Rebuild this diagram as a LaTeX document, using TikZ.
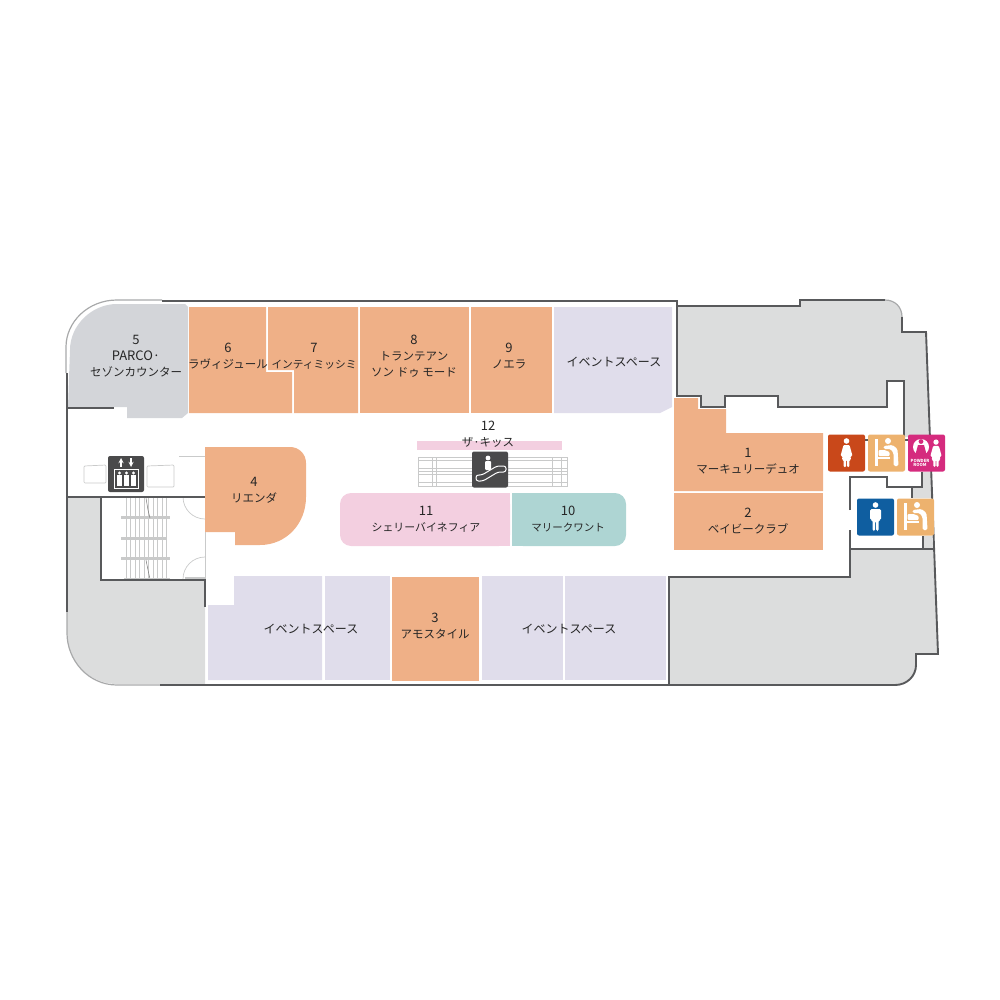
\documentclass[tikz,border=0pt]{standalone}
\usepackage{fontspec}
\setmainfont{Noto Sans CJK JP}
\usepackage{xcolor}
\definecolor{shoporange}{HTML}{EFB087}
\definecolor{eventlilac}{HTML}{E0DDEB}
\definecolor{counterblue}{HTML}{D3D5D9}
\definecolor{shoppink}{HTML}{F3CFE0}
\definecolor{shopteal}{HTML}{AED5D3}
\definecolor{voidgrey}{HTML}{DCDDDD}
\definecolor{walldark}{HTML}{58595B}
\definecolor{thinline}{HTML}{C9CACA}
\definecolor{curveline}{HTML}{A8A9AA}
\definecolor{iconblack}{HTML}{4A4A4B}
\definecolor{wcred}{HTML}{C9481A}
\definecolor{wcblue}{HTML}{0F5EA0}
\definecolor{babytan}{HTML}{EDB26E}
\definecolor{powderpink}{HTML}{D52B7E}
\newcommand{\shopno}[1]{{\fontsize{13}{16}\selectfont #1}}
\begin{document}
\begin{tikzpicture}[x=1pt,y=-1pt,
  shop/.style={fill=shoporange},
  eventarea/.style={fill=eventlilac},
  void/.style={fill=voidgrey},
  wall/.style={draw=walldark,line width=1.9pt,line join=miter},
  thin wall/.style={draw=thinline,line width=0.7pt},
  outer curve/.style={draw=curveline,line width=1.2pt},
  stair line/.style={draw=thinline,line width=0.5pt},
  shop label/.style={font=\fontsize{11.5}{16}\selectfont,align=center,inner sep=0pt,text=black!85},
  icon box/.style={rounded corners=2pt,minimum size=37pt,inner sep=0pt},
  person/.style={fill=white,draw=none},
  man/.pic={
    \fill[person] (0,-12) circle (2.8);
    \fill[person,rounded corners=1.5pt] (-5.5,-8) -- (5.5,-8) -- (5.5,3) -- (3,3) -- (3,14) -- (0.5,14) -- (0.5,4)
      -- (-0.5,4) -- (-0.5,14) -- (-3,14) -- (-3,3) -- (-5.5,3) -- cycle;
  },
  woman/.pic={
    \fill[person] (0,-12) circle (2.8);
    \fill[person,rounded corners=1pt] (-3,-8) -- (3,-8) -- (6,3) -- (4,3) -- (4.5,7) -- (2.8,7) -- (2.8,14) -- (0.5,14) -- (0.5,7)
      -- (-0.5,7) -- (-0.5,14) -- (-2.8,14) -- (-2.8,7) -- (-4.5,7) -- (-4,3) -- (-6,3) -- cycle;
  },
  baby table/.pic={
    \fill[person] (-11.5,-14) rectangle (-9,13);
    \fill[person] (-9,4) rectangle (3,6);
    \fill[person,rounded corners=1pt] (-8,-3) -- (-2,-3) -- (3,-1) -- (3,3) -- (-8,3) -- cycle;
    \fill[person] (1.5,-12) circle (3);
    \fill[person,rounded corners=1.5pt] (-3,-7) -- (6,-8) -- (11,-4) -- (12,13) -- (7,13) -- (7,0) -- (4,-4) -- (-3,-4) -- cycle;
  }]

  \useasboundingbox (0,0) rectangle (1000,1000);

  % voids behind the walls
  \path[void] (677,306) -- (800,306) -- (800,300) -- (885,300) .. controls (895,300) and (902,307) .. (902,317) -- (902,332)
    -- (926,332) -- (930,437) -- (904,437) -- (904,381) -- (887,381) -- (887,407) -- (778,407) -- (778,396)
    -- (725,396) -- (725,407) -- (701,407) -- (701,396) -- (677,396) -- cycle;
  \path[void] (669,577) -- (851,577) -- (851,549) -- (933,549) -- (938,654) -- (916,654) -- (916,665)
    .. controls (916,676) and (907,684) .. (895,684) -- (669,684) -- cycle;
  \path[void] (67,497) -- (101,497) -- (101,580) -- (205,580) -- (205,684) -- (117,684)
    .. controls (88,684) and (67,660) .. (67,633) -- cycle;
  \path[void] (922,472) -- (931,472) -- (931,498) -- (912,498) -- (912,487) -- (922,487) -- cycle;
  \path[void] (923,536) -- (932,536) -- (933,549) -- (923,549) -- cycle;

  % shops
  \path[fill=counterblue] (117,304) -- (185,304) -- (188,307) -- (188,413) -- (182,418) -- (127,418) -- (127,407) -- (68,407)
    -- (70,350) .. controls (70,325) and (92,304) .. (117,304) -- cycle;
  \path[shop] (189,307) -- (266,307) -- (266,372) -- (292,372) -- (292,413) -- (189,413) -- cycle;
  \path[shop] (268,307) -- (358,307) -- (358,413) -- (294,413) -- (294,370) -- (268,370) -- cycle;
  \path[shop] (360,307) rectangle (469,413);
  \path[shop] (471,307) rectangle (552,413);
  \path[eventarea] (554,307) -- (672,307) -- (672,407) -- (660,413) -- (554,413) -- cycle;
  \path[shop] (674,398) -- (698,398) -- (698,409) -- (726,409) -- (726,433) -- (823,433) -- (823,491) -- (674,491) -- cycle;
  \path[shop] (674,493) rectangle (823,550);
  \path[shop] (205,447) -- (290,447) .. controls (299,447) and (306,454) .. (306,463) -- (306,497)
    .. controls (306,524) and (286,545) .. (260,545) -- (235,545) -- (235,532) -- (205,532) -- cycle;
  \path[fill=shoppink,rounded corners=11pt] (510,493) -- (340,493) -- (340,546) -- (510,546) -- cycle;
  \path[fill=shoppink] (490,493) rectangle (510,546);
  \path[fill=shopteal,rounded corners=11pt] (512,493) -- (626,493) -- (626,546) -- (512,546) -- cycle;
  \path[fill=shopteal] (512,493) rectangle (530,546);
  \path[fill=shoppink] (417,441) rectangle (562,450);
  \path[eventarea] (234,576) -- (322,576) -- (322,680) -- (208,680) -- (208,605) -- (234,605) -- cycle;
  \path[eventarea] (325,576) rectangle (390,680);
  \path[shop] (392,577) rectangle (479,681);
  \path[eventarea] (482,576) rectangle (563,680);
  \path[eventarea] (565,576) rectangle (666,680);

  % thin lines
  \draw[outer curve] (162,300) -- (117,300) .. controls (88,300) and (66,322) .. (66,347) -- (66,373);
  \draw[outer curve] (67,612) -- (67,633) .. controls (67,660) and (88,685) .. (117,685) -- (162,685);
  \draw[outer curve] (885,300) .. controls (895,300) and (902,307) .. (902,317);
  \draw[thin wall] (179,456) -- (205,456);
  \draw[thin wall] (205,532) -- (205,580);
  \draw[thin wall] (183,497) arc[start angle=180,end angle=90,radius=22];
  \draw[thin wall] (183,579) arc[start angle=180,end angle=270,radius=22];
  \draw[thin wall,rounded corners=1pt] (84,466) -- (106,465) -- (106,483) -- (84,483) -- cycle;
  \draw[thin wall,rounded corners=1pt] (147,466) -- (174,465) -- (174,487) -- (147,487) -- cycle;

  % stairs
  \foreach \x in {126,130.5,...,170}
    \draw[stair line] (\x,498) -- (\x,579);
  \foreach \y/\r in {517/170,538/167,558/170}
    \draw[draw=thinline,line width=3pt] (121,\y) -- (\r,\y);
  \draw[stair line,draw=gray] (146,498) -- (148,510) -- (150,518);
  \draw[stair line,draw=gray] (146,560) -- (148,570) -- (150,579);
  \draw[draw=thinline,line width=1.5pt] (124,578.5) -- (170,578.5);
  \draw[draw=thinline,line width=1.5pt] (185,578) -- (205,578);

  % escalator
  \draw[stair line] (418,457) rectangle (567,486);
  \foreach \y in {460,468,471,474,482}
    \draw[stair line] (418,\y) -- (567,\y);
  \foreach \x in {432,436,552,561}
    \draw[stair line] (\x,457) -- (\x,486);

  % walls
  \draw[wall] (162,301) -- (677,301) -- (677,306) -- (800,306) -- (800,300) -- (885,300);
  \draw[wall] (902,317) -- (902,332) -- (926,332) -- (938,654) -- (916,654) -- (916,665)
    .. controls (916,676) and (907,685) .. (895,685) -- (160,685);
  \draw[wall] (677,306) -- (677,396) -- (701,396) -- (701,407) -- (725,407) -- (725,396) -- (778,396) -- (778,407)
    -- (887,407) -- (887,381) -- (904,381) -- (904,437);
  \draw[wall] (67,373) -- (67,612);
  \draw[wall] (67,408) -- (114,408);
  \draw[wall] (67,497) -- (205,497);
  \draw[wall] (101,497) -- (101,580) -- (205,580) -- (205,607);
  \draw[wall] (850,510) -- (850,477) -- (887,477) -- (887,487) -- (922,487) -- (922,472);
  \draw[wall] (912,487) -- (912,498);
  \draw[wall] (850,530) -- (850,577) -- (669,577) -- (669,685);
  \draw[wall] (851,549) -- (933,549);
  \draw[wall] (923,536) -- (923,549);
  \draw[wall] (865,440) -- (868,440);
  \draw[wall] (905,440) -- (908,440);

  % lift and escalator signs
  \node[icon box,fill=iconblack,minimum size=36pt] (liftsign) at (126,474) {};
  \draw[white,line width=1.3pt,-stealth] (121,467) -- (121,458);
  \draw[white,line width=1.3pt,-stealth] (131,458) -- (131,467);
  \draw[white,line width=1pt,fill=iconblack] (114,469) rectangle (138.5,488);
  \foreach \x in {119.5,126.5,133.5}{
    \fill[white] (\x,473) circle (1.7);
    \fill[white] (\x-2.5,475) rectangle (\x+2.5,486);
  }
  \node[icon box,fill=iconblack,minimum size=36pt] (escalatorsign) at (490,469.5) {};
  \fill[white] (488,458) circle (2.4);
  \fill[white,rounded corners=1pt] (485,461) rectangle (491,470);
  \draw[white,line width=1pt,rounded corners=2.5pt] (476,481) -- (483,481) -- (498,472) -- (506,472)
    -- (506,466) -- (497,466) -- (482,475) -- (476,475) -- cycle;

  % toilets
  \node[icon box,fill=wcred] (womenwc) at (846.5,453) {};
  \pic at (womenwc) {woman};
  \node[icon box,fill=babytan] (babyupper) at (886.5,453) {};
  \pic at (babyupper) {baby table};
  \node[icon box,fill=powderpink] (powderroom) at (926.5,453) {};
  \fill[white] (921,447) circle (8);
  \fill[powderpink] (921,441.5) circle (2.4);
  \fill[powderpink] (918,445) -- (924,445) -- (927,456) -- (915,456) -- cycle;
  \pic[scale=0.95] at (936,453.5) {woman};
  \node[font=\fontsize{4.2}{4.4}\selectfont\bfseries,text=white,align=center,inner sep=0pt] (powderlabel) at (920,463) {POWDER\\ROOM};
  \node[icon box,fill=wcblue] (menwc) at (875.5,517) {};
  \pic at (menwc) {man};
  \node[icon box,fill=babytan] (babylower) at (915.5,517) {};
  \pic at (babylower) {baby table};

  % labels
  \node[shop label] (shop5) at (136,356) {\shopno{5}\\\shopno{PARCO·}\\セゾンカウンター};
  \node[shop label] (shop6) at (228,356.5) {\shopno{6}\\ラヴィジュール};
  \node[shop label,font=\fontsize{10.7}{16}\selectfont] (shop7) at (314,356.5) {\shopno{7}\\インティミッシミ};
  \node[shop label] (shop8) at (414,356) {\shopno{8}\\トランテアン\\ソン ドゥ モード};
  \node[shop label] (shop9) at (509,356.5) {\shopno{9}\\ノエラ};
  \node[shop label,font=\fontsize{12}{16}\selectfont] (event1) at (614,361.5) {イベントスペース};
  \node[shop label] (shop12) at (488,434.5) {\shopno{12}\\ザ·キッス};
  \node[shop label,font=\fontsize{10.9}{16}\selectfont] (shop11) at (426,519) {\shopno{11}\\シェリーバイネフィア};
  \node[shop label,font=\fontsize{10.5}{16}\selectfont] (shop10) at (568,519) {\shopno{10}\\マリークワント};
  \node[shop label] (shop4) at (254,490) {\shopno{4}\\リエンダ};
  \node[shop label] (shop1) at (748,461.5) {\shopno{1}\\マーキュリーデュオ};
  \node[shop label] (shop2) at (748,521) {\shopno{2}\\ベイビークラブ};
  \node[shop label] (shop3) at (435,626) {\shopno{3}\\アモスタイル};
  \node[shop label,font=\fontsize{12}{16}\selectfont] (event2) at (311,628.5) {イベントスペース};
  \node[shop label,font=\fontsize{12}{16}\selectfont] (event3) at (569,628.5) {イベントスペース};

\end{tikzpicture}
\end{document}
